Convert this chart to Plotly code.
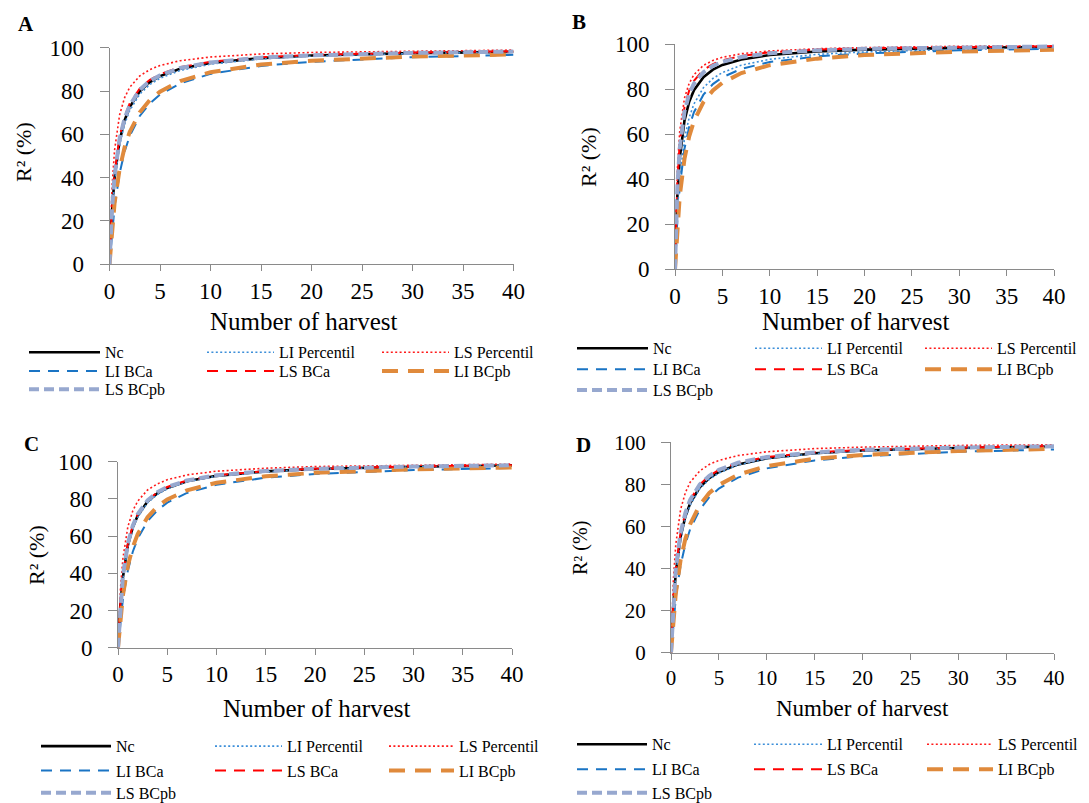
import plotly.graph_objects as go

# ---------------- data ----------------
harvests = [0, 0.25, 0.5, 1, 1.5, 2, 3, 4, 5, 7, 10, 15, 20, 30, 40]
series_names = ["Nc", "LI Percentil", "LS Percentil", "LI BCa", "LS BCa", "LI BCpb", "LS BCpb"]
panel_labels = ["A", "B", "C", "D"]
x_tick_vals = [0, 5, 10, 15, 20, 25, 30, 35, 40]
y_tick_vals = [0, 20, 40, 60, 80, 100]
x_title = "Number of harvest"
y_title = "R² (%)"

# Panel A
a_nc = [0, 24.9, 39.9, 57.0, 66.5, 72.6, 79.9, 84.1, 86.9, 90.3, 93.0, 95.2, 96.4, 97.5, 98.1]
a_li_percentil = [0, 23.4, 37.9, 55.0, 64.7, 71.0, 78.6, 83.0, 85.9, 89.5, 92.4, 94.8, 96.1, 97.3, 98.0]
a_ls_percentil = [0, 35.8, 52.7, 69.0, 77.0, 81.7, 87.0, 89.9, 91.8, 94.0, 95.7, 97.1, 97.8, 98.5, 98.9]
a_li_bca = [0, 15.3, 26.6, 42.0, 52.1, 59.2, 68.5, 74.3, 78.4, 83.5, 87.9, 91.6, 93.5, 95.6, 96.7]
a_ls_bca = [0, 26.5, 41.8, 59.0, 68.3, 74.2, 81.2, 85.2, 87.8, 91.0, 93.5, 95.6, 96.6, 97.7, 98.3]
a_li_bcpb = [0, 16.4, 28.2, 44.0, 54.1, 61.1, 70.2, 75.9, 79.7, 84.6, 88.7, 92.2, 94.0, 95.9, 96.9]
a_ls_bcpb = [0, 25.7, 40.8, 58.0, 67.4, 73.4, 80.6, 84.7, 87.3, 90.6, 93.2, 95.4, 96.5, 97.6, 98.2]

# Panel B
b_nc = [0, 32.7, 49.3, 66.0, 74.4, 79.5, 85.3, 88.6, 90.7, 93.1, 95.1, 96.7, 97.5, 98.3, 98.7]
b_li_percentil = [0, 25.7, 40.8, 58.0, 67.4, 73.4, 80.6, 84.7, 87.3, 90.6, 93.2, 95.4, 96.5, 97.6, 98.2]
b_ls_percentil = [0, 44.2, 61.3, 76.0, 82.6, 86.4, 90.5, 92.7, 94.1, 95.7, 96.9, 97.9, 98.4, 99.0, 99.2]
b_li_bca = [0, 22.3, 36.5, 53.5, 63.3, 69.7, 77.5, 82.2, 85.2, 89.0, 92.0, 94.5, 95.8, 97.2, 97.9]
b_ls_bca = [0, 39.1, 56.2, 72.0, 79.4, 83.7, 88.5, 91.1, 92.8, 94.7, 96.3, 97.5, 98.1, 98.7, 99.0]
b_li_bcpb = [0, 19.4, 32.5, 49.0, 59.0, 65.8, 74.2, 79.4, 82.8, 87.1, 90.6, 93.5, 95.1, 96.6, 97.5]
b_ls_bcpb = [0, 36.8, 53.8, 70.0, 77.8, 82.4, 87.5, 90.3, 92.1, 94.2, 95.9, 97.2, 97.9, 98.6, 98.9]

# Panel C
c_nc = [0, 23.4, 37.9, 55.0, 64.7, 71.0, 78.6, 83.0, 85.9, 89.5, 92.4, 94.8, 96.1, 97.3, 98.0]
c_li_percentil = [0, 22.7, 37.0, 54.0, 63.8, 70.1, 77.9, 82.4, 85.4, 89.2, 92.2, 94.6, 95.9, 97.2, 97.9]
c_ls_percentil = [0, 31.7, 48.1, 65.0, 73.6, 78.8, 84.8, 88.1, 90.3, 92.9, 94.9, 96.5, 97.4, 98.2, 98.7]
c_li_bca = [0, 15.1, 26.2, 41.5, 51.6, 58.7, 68.0, 73.9, 78.0, 83.2, 87.6, 91.4, 93.4, 95.5, 96.6]
c_ls_bca = [0, 24.1, 38.9, 56.0, 65.6, 71.8, 79.2, 83.6, 86.4, 89.9, 92.7, 95.0, 96.2, 97.4, 98.1]
c_li_bcpb = [0, 16.4, 28.2, 44.0, 54.1, 61.1, 70.2, 75.9, 79.7, 84.6, 88.7, 92.2, 94.0, 95.9, 96.9]
c_ls_bcpb = [0, 24.1, 38.9, 56.0, 65.6, 71.8, 79.2, 83.6, 86.4, 89.9, 92.7, 95.0, 96.2, 97.4, 98.1]

# Panel D
d_nc = [0, 23.4, 37.9, 55.0, 64.7, 71.0, 78.6, 83.0, 85.9, 89.5, 92.4, 94.8, 96.1, 97.3, 98.0]
d_li_percentil = [0, 22.7, 37.0, 54.0, 63.8, 70.1, 77.9, 82.4, 85.4, 89.2, 92.2, 94.6, 95.9, 97.2, 97.9]
d_ls_percentil = [0, 34.7, 51.5, 68.0, 76.1, 81.0, 86.4, 89.5, 91.4, 93.7, 95.5, 97.0, 97.7, 98.5, 98.8]
d_li_bca = [0, 15.1, 26.2, 41.5, 51.6, 58.7, 68.0, 73.9, 78.0, 83.2, 87.6, 91.4, 93.4, 95.5, 96.6]
d_ls_bca = [0, 24.9, 39.9, 57.0, 66.5, 72.6, 79.9, 84.1, 86.9, 90.3, 93.0, 95.2, 96.4, 97.5, 98.1]
d_li_bcpb = [0, 16.4, 28.2, 44.0, 54.1, 61.1, 70.2, 75.9, 79.7, 84.6, 88.7, 92.2, 94.0, 95.9, 96.9]
d_ls_bcpb = [0, 24.9, 39.9, 57.0, 66.5, 72.6, 79.9, 84.1, 86.9, 90.3, 93.0, 95.2, 96.4, 97.5, 98.1]

panel_data = {
    "A": [a_nc, a_li_percentil, a_ls_percentil, a_li_bca, a_ls_bca, a_li_bcpb, a_ls_bcpb],
    "B": [b_nc, b_li_percentil, b_ls_percentil, b_li_bca, b_ls_bca, b_li_bcpb, b_ls_bcpb],
    "C": [c_nc, c_li_percentil, c_ls_percentil, c_li_bca, c_ls_bca, c_li_bcpb, c_ls_bcpb],
    "D": [d_nc, d_li_percentil, d_ls_percentil, d_li_bca, d_ls_bca, d_li_bcpb, d_ls_bcpb],
}

# ---------------- styles / layout ----------------
PAGE_OFFSET = 8          # default body margin of the html page
W, H = 1089 - PAGE_OFFSET, 803 - PAGE_OFFSET
SERIF = "Liberation Serif"
AXIS_GRAY = "#8a8a8a"

styles = {
    "Nc": dict(color="#000000", width=2.6, dash="solid"),
    "LI Percentil": dict(color="#3d8fd9", width=1.6, dash="2px,2.4px"),
    "LS Percentil": dict(color="#ff1a1a", width=1.6, dash="2px,2.4px"),
    "LI BCa": dict(color="#1a74c4", width=2.0, dash="11px,8px"),
    "LS BCa": dict(color="#ff0000", width=2.0, dash="11px,8px"),
    "LI BCpb": dict(color="#e08a3c", width=4.0, dash="16px,10px"),
    "LS BCpb": dict(color="#97a8cf", width=4.0, dash="10px,5px"),
}
# legend grid cell (row, col) of each series
legend_cell = {
    "Nc": (0, 0), "LI Percentil": (0, 1), "LS Percentil": (0, 2),
    "LI BCa": (1, 0), "LS BCa": (1, 1), "LI BCpb": (1, 2),
    "LS BCpb": (2, 0),
}

# panel geometry in window pixels
geom = {
    "A": dict(box=(109.5, 513.5, 47.7, 264.3), letter=(26, 24), ytitle=(24, 152),
              xtitle=(303, 321), cols=[(29, 71), (207, 67), (382, 67)],
              rows=[352.3, 371, 389.3], tick=23, title=25, ytsize=22),
    "B": dict(box=(675, 1054, 44, 269.3), letter=(579, 22), ytitle=(589, 157),
              xtitle=(855, 321), cols=[(577, 71), (755, 67), (925, 67)],
              rows=[348.3, 369.3, 390], tick=23, title=25, ytsize=22),
    "C": dict(box=(118, 512, 461.7, 647.7), letter=(31, 444), ytitle=(36, 555),
              xtitle=(316, 708), cols=[(41, 70), (215, 67), (389, 65)],
              rows=[746.2, 770.7, 792.8], tick=23, title=25, ytsize=22),
    "D": dict(box=(671, 1054, 442.3, 652.7), letter=(583, 445), ytitle=(580, 548),
              xtitle=(862, 708), cols=[(577, 70), (754, 68), (927, 66)],
              rows=[744.3, 769.3, 792.8], tick=21, title=23, ytsize=20),
}


def px_x(v):
    return (v - PAGE_OFFSET) / W


def px_y(v):
    return 1 - (v - PAGE_OFFSET) / H


fig = go.Figure()
layout_extra = {}
annotations = []
legend_count = 0

for pi, label in enumerate(panel_labels):
    g = geom[label]
    xa = "xaxis" if pi == 0 else f"xaxis{pi + 1}"
    ya = "yaxis" if pi == 0 else f"yaxis{pi + 1}"
    xref = "x" if pi == 0 else f"x{pi + 1}"
    yref = "y" if pi == 0 else f"y{pi + 1}"
    x0, x1, y0, y1 = g["box"]
    tickfont = dict(family=SERIF, size=g["tick"], color="#000000")
    layout_extra[xa] = dict(
        domain=[px_x(x0), px_x(x1)], anchor=yref, range=[0, 40],
        tickvals=x_tick_vals, showline=True, linecolor=AXIS_GRAY, linewidth=1,
        ticks="outside", ticklen=6, tickcolor=AXIS_GRAY, tickwidth=1,
        showgrid=False, zeroline=False, tickfont=tickfont, ticklabelstandoff=0,
    )
    layout_extra[ya] = dict(
        domain=[px_y(y1), px_y(y0)], anchor=xref, range=[0, 100],
        tickvals=y_tick_vals, showline=True, linecolor=AXIS_GRAY, linewidth=1,
        ticks="outside", ticklen=9, tickcolor=AXIS_GRAY, tickwidth=1,
        showgrid=False, zeroline=False, tickfont=tickfont, ticklabelstandoff=11,
    )

    for si, name in enumerate(series_names):
        legend_count += 1
        lg = "legend" if legend_count == 1 else f"legend{legend_count}"
        st = styles[name]
        fig.add_trace(go.Scatter(
            x=harvests, y=panel_data[label][si], mode="lines", name=name,
            line=dict(color=st["color"], width=st["width"], dash=st["dash"]),
            xaxis=xref, yaxis=yref, legend=lg, showlegend=True,
        ))
        r, c = legend_cell[name]
        line_start, item_w = g["cols"][c]
        layout_extra[lg] = dict(
            x=px_x(line_start - 5), y=px_y(g["rows"][r]),
            xanchor="left", yanchor="middle", orientation="v",
            bgcolor="rgba(0,0,0,0)", borderwidth=0, itemwidth=item_w,
            font=dict(family=SERIF, size=16, color="#000000"),
        )

    annotations.append(dict(
        text=f"<b>{label}</b>", x=px_x(g["letter"][0]), y=px_y(g["letter"][1]),
        xref="paper", yref="paper", showarrow=False, xanchor="center", yanchor="middle",
        font=dict(family=SERIF, size=21, color="#000000"),
    ))
    annotations.append(dict(
        text=x_title, x=px_x(g["xtitle"][0]), y=px_y(g["xtitle"][1]),
        xref="paper", yref="paper", showarrow=False, xanchor="center", yanchor="middle",
        font=dict(family=SERIF, size=g["title"], color="#000000"),
    ))
    annotations.append(dict(
        text=y_title, x=px_x(g["ytitle"][0]), y=px_y(g["ytitle"][1]),
        xref="paper", yref="paper", showarrow=False, xanchor="center", yanchor="middle",
        textangle=-90, font=dict(family=SERIF, size=g["ytsize"], color="#000000"),
    ))

fig.update_layout(
    width=W, height=H,
    margin=dict(l=0, r=0, t=0, b=0, autoexpand=False),
    paper_bgcolor="white", plot_bgcolor="white",
    annotations=annotations,
    **layout_extra,
)

fig.write_html("out.html")
